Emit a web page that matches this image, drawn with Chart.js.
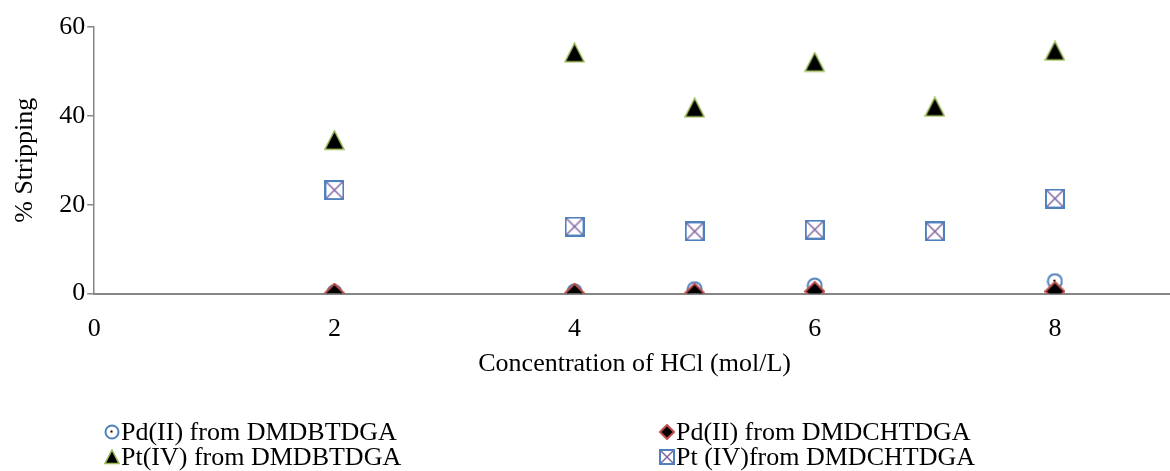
<!DOCTYPE html>
<html>
<head>
<meta charset="utf-8">
<script src="https://cdn.jsdelivr.net/npm/chart.js@4/dist/chart.umd.min.js"></script>
<style>
  body { margin: 0; overflow: hidden; background: #fff; }
  #wrap { width: 1180px; height: 471px; }
</style>
</head>
<body>
<div id="wrap"><canvas id="chart"></canvas></div>
<script>
// HCl concentration (mol/L)
const hclConc = [2, 4, 5, 6, 7, 8];
// % stripping
const pdDMDBTDGA = [0.3, 0.5, 1.0, 1.8, null, 2.8];
const pdDMDCHTDGA = [0.1, 0.1, 0.1, 0.5, null, 0.5];
const ptDMDBTDGA = [34.5, 54.2, 41.8, 52.1, 42.0, 54.6];
const ptDMDCHTDGA = [23.3, 15.1, 14.0, 14.4, 14.0, 21.4];
const seriesNames = ['Pd(II) from DMDBTDGA', 'Pd(II) from DMDCHTDGA', 'Pt(IV) from DMDBTDGA', 'Pt (IV)from DMDCHTDGA'];
const xTicks = [0, 2, 4, 6, 8];

const BLUE = '#4F81BD', RED = '#C0504D', GREEN = '#9BBB59', PURPLE = '#8064A2';
const FONT = '"Liberation Serif", "Times New Roman", serif';
const FSIZE = 26;

function makeMarker(kind, s) {
  const c = document.createElement('canvas');
  c.width = s; c.height = s;
  const g = c.getContext('2d');
  const m = s / 2;
  if (kind === 'circle') {
    g.beginPath(); g.arc(m, m, m - 1.5, 0, Math.PI * 2);
    g.fillStyle = '#fff'; g.fill();
    g.lineWidth = 2; g.strokeStyle = BLUE; g.stroke();
    g.fillStyle = '#000'; g.fillRect(m - 1.5, m - 1.5, 2, 2);
  } else if (kind === 'diamond') {
    g.beginPath();
    g.moveTo(m, 1); g.lineTo(s - 1, m); g.lineTo(m, s - 1); g.lineTo(1, m); g.closePath();
    g.fillStyle = '#000'; g.fill();
    g.lineWidth = 2; g.strokeStyle = RED; g.stroke();
  } else if (kind === 'triangle') {
    g.beginPath();
    g.moveTo(m, 1); g.lineTo(s - 1, s - 1.5); g.lineTo(1, s - 1.5); g.closePath();
    g.fillStyle = '#000'; g.fill();
    g.lineWidth = 1.5; g.strokeStyle = GREEN; g.stroke();
  } else {
    g.lineWidth = 1.5; g.strokeStyle = PURPLE;
    g.beginPath(); g.moveTo(2, 2); g.lineTo(s - 2, s - 2); g.moveTo(s - 2, 2); g.lineTo(2, s - 2); g.stroke();
    g.lineWidth = 2; g.strokeStyle = BLUE; g.strokeRect(1, 1, s - 2, s - 2);
  }
  return c;
}

const kinds = ['circle', 'diamond', 'triangle', 'xsquare'];
const plotSizes = [17, 21, 21, 20];
const values = [pdDMDBTDGA, pdDMDCHTDGA, ptDMDBTDGA, ptDMDCHTDGA];
const drawOrder = [1, 0, 2, 3];

const datasets = values.map((vals, i) => ({
  label: seriesNames[i],
  data: hclConc.map((x, j) => ({ x: x, y: vals[j] })).filter(p => p.y !== null),
  pointStyle: makeMarker(kinds[i], plotSizes[i]),
  showLine: false,
  order: drawOrder[i]
}));

const legendIcons = kinds.map(k => makeMarker(k, 16));
const legendPlugin = {
  id: 'twoColLegend',
  afterDraw(chart) {
    const ctx = chart.ctx;
    const cols = [112, 667];
    const rows = [432, 457];
    ctx.save();
    ctx.font = FSIZE + 'px ' + FONT;
    ctx.fillStyle = '#000';
    ctx.textBaseline = 'middle';
    seriesNames.forEach((name, i) => {
      const cx = cols[i % 2], cy = rows[Math.floor(i / 2)];
      const ic = legendIcons[i];
      ctx.drawImage(ic, cx - ic.width / 2, cy - ic.height / 2);
      ctx.fillText(name, cx + 9, cy + 1);
    });
    ctx.restore();
  }
};

new Chart(document.getElementById('chart'), {
  type: 'scatter',
  data: { datasets: datasets },
  options: {
    responsive: true,
    maintainAspectRatio: false,
    animation: false,
    layout: { padding: { left: 10, top: 27, right: 0, bottom: 91 } },
    plugins: { legend: { display: false }, tooltip: { enabled: false } },
    scales: {
      x: {
        type: 'linear', min: 0, max: 9,
        afterBuildTicks: s => { s.ticks = xTicks.map(v => ({ value: v })); },
        grid: { display: false, drawTicks: false },
        border: { color: '#868686', width: 2 },
        ticks: { color: '#000', font: { family: FONT, size: FSIZE }, padding: 20 },
        title: { display: true, text: 'Concentration of HCl (mol/L)', color: '#000', font: { family: FONT, size: FSIZE }, padding: { top: -16, bottom: 0 } }
      },
      y: {
        min: 0, max: 60,
        ticks: { stepSize: 20, color: '#000', font: { family: FONT, size: FSIZE }, padding: 2 },
        grid: { drawOnChartArea: false, drawTicks: true, tickLength: 7, color: '#868686', lineWidth: 1.5 },
        border: { color: '#868686', width: 1.5 },
        title: { display: true, text: '% Stripping', color: '#000', font: { family: FONT, size: FSIZE }, padding: { top: 0, bottom: 16 } }
      }
    }
  },
  plugins: [legendPlugin]
});
</script>
</body>
</html>
